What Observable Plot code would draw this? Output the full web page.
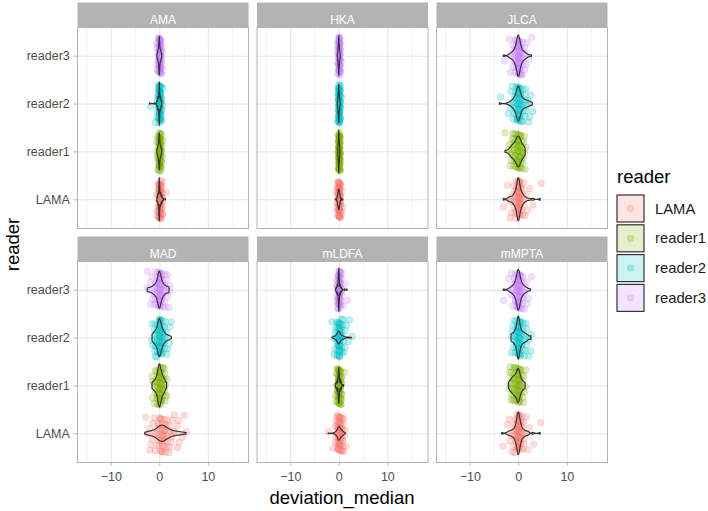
<!DOCTYPE html>
<html><head><meta charset="utf-8">
<script src="https://cdn.jsdelivr.net/npm/d3@7"></script>
<script src="https://cdn.jsdelivr.net/npm/@observablehq/plot@0.6"></script>
<style>
html,body{margin:0;padding:0;background:#fff;}
#chart{position:relative;width:708px;height:511px;}
</style></head><body><div id="chart"></div>
<script>
const readers = ["LAMA", "reader1", "reader2", "reader3"];
const measures = ["AMA", "HKA", "JLCA", "MAD", "mLDFA", "mMPTA"];
const readerColors = ["#F8766D", "#7CAE00", "#00BFC4", "#C77CFF"];
const xTicks = [-10, 0, 10];
const xMinorTicks = [-15, -5, 5, 15];
const xTitle = "deviation_median";
const yTitle = "reader";
const legendTitle = "reader";

// [deviation_median, number of cases] per reader: LAMA, reader1, reader2, reader3
const AMA = [
  [[-0.5,3],[-0.25,8],[0,30],[0.25,10],[0.5,6],[0.75,2],[1.25,1]],
  [[-0.5,4],[-0.25,10],[0,32],[0.25,10],[0.5,4]],
  [[-2,1],[-1,1],[-0.5,4],[-0.25,10],[0,30],[0.25,10],[0.5,4]],
  [[-0.5,4],[-0.25,9],[0,33],[0.25,10],[0.5,4]]
];
const HKA = [
  [[-0.7,1],[-0.4,2],[-0.3,4],[-0.2,7],[-0.1,10],[0,14],[0.1,10],[0.2,6],[0.3,3],[0.5,2],[0.8,1]],
  [[-0.2,5],[-0.1,12],[0,26],[0.1,12],[0.2,5]],
  [[-0.3,1],[-0.2,5],[-0.1,12],[0,25],[0.1,11],[0.2,5],[0.3,1]],
  [[-0.3,1],[-0.2,5],[-0.1,11],[0,26],[0.1,11],[0.2,5],[0.3,1]]
];
const JLCA = [
  [[-3.1,1],[-2.2,1],[-1.8,2],[-1.4,2],[-1.0,3],[-0.7,4],[-0.4,5],[-0.2,5],[0,14],[0.2,5],[0.4,5],[0.7,4],[1.0,3],[1.4,2],[1.8,1],[2.3,1],[3.0,1],[4.5,1]],
  [[-2.75,1],[-2.2,1],[-1.8,2],[-1.5,3],[-1.2,4],[-0.9,5],[-0.6,5],[-0.3,6],[0,14],[0.3,6],[0.6,5],[0.9,4],[1.2,3],[1.4,1]],
  [[-3.9,1],[-2.2,1],[-1.6,2],[-1.2,3],[-0.8,4],[-0.5,5],[-0.2,5],[0,14],[0.2,5],[0.5,5],[0.8,4],[1.2,3],[1.6,3],[2.0,2],[2.4,2],[2.9,1]],
  [[-3.1,1],[-2.0,1],[-1.6,2],[-1.2,3],[-0.8,4],[-0.5,5],[-0.2,6],[0,16],[0.2,6],[0.5,5],[0.8,4],[1.2,3],[1.6,2],[2.0,1],[2.7,1]]
];
const MAD = [
  [[-3,1],[-2.5,1],[-2,3],[-1.5,2],[-1,3],[-0.5,4],[0,8],[0.5,9],[1,8],[1.5,5],[2,4],[2.5,3],[3,2],[3.5,2],[4,2],[4.5,1],[5,1],[5.5,1]],
  [[-1.5,3],[-1,5],[-0.5,8],[0,24],[0.5,11],[1,7],[1.5,2]],
  [[-1.5,3],[-1,6],[-0.5,8],[0,22],[0.5,10],[1,5],[1.5,3],[2,2],[2.5,1]],
  [[-2.5,2],[-2,2],[-1.5,3],[-1,5],[-0.5,7],[0,22],[0.5,8],[1,5],[1.5,3],[2,3]]
];
const mLDFA = [
  [[-2.2,1],[-1.2,1],[-0.9,2],[-0.6,3],[-0.4,5],[-0.2,7],[0,14],[0.2,8],[0.4,6],[0.6,5],[0.8,4],[1.0,2],[1.3,2]],
  [[-0.7,2],[-0.5,4],[-0.3,7],[-0.1,9],[0,16],[0.1,9],[0.3,7],[0.5,4],[0.7,1],[1.0,1]],
  [[-1.4,1],[-1.1,2],[-0.8,3],[-0.5,5],[-0.3,6],[-0.1,6],[0,14],[0.2,7],[0.5,5],[0.8,4],[1.1,3],[1.5,1],[2.0,2],[2.6,1]],
  [[-0.7,1],[-0.5,3],[-0.3,6],[-0.1,9],[0,20],[0.1,9],[0.3,6],[0.5,3],[0.7,1],[1.2,1],[1.7,1]]
];
const mMPTA = [
  [[-3.4,1],[-2.4,1],[-1.9,2],[-1.5,2],[-1.1,3],[-0.7,4],[-0.4,5],[-0.2,5],[0,14],[0.2,5],[0.4,5],[0.7,4],[1.1,3],[1.5,2],[2.0,2],[3.0,1],[4.5,1]],
  [[-2.0,2],[-1.7,3],[-1.4,4],[-1.1,5],[-0.8,6],[-0.5,6],[-0.2,6],[0,12],[0.2,5],[0.5,4],[0.8,3],[1.1,2],[1.4,2]],
  [[-1.5,2],[-1.2,3],[-0.8,4],[-0.5,5],[-0.2,6],[0,14],[0.2,6],[0.5,5],[0.8,4],[1.2,4],[1.6,3],[2.0,2],[2.6,2]],
  [[-3.1,1],[-2.0,1],[-1.6,2],[-1.2,3],[-0.8,4],[-0.5,5],[-0.2,6],[0,16],[0.2,6],[0.5,5],[0.8,4],[1.2,3],[1.6,2],[2.0,1],[2.5,1]]
];
const measureCounts = [AMA, HKA, JLCA, MAD, mLDFA, mMPTA];

const FONT = "'Liberation Sans', Arial, Helvetica, sans-serif";

// bandwidth as in R's bw.nrd0
function nrd0(x) {
  const s = x.slice().sort(d3.ascending);
  const sd = d3.deviation(s);
  const iqr = d3.quantile(s, 0.75) - d3.quantile(s, 0.25);
  let lo = Math.min(sd, iqr / 1.34);
  if (!lo) lo = sd || Math.abs(s[0]) || 1;
  return 0.9 * lo * Math.pow(s.length, -0.2);
}
function kde(vals) {
  const bw = nrd0(vals), n = vals.length;
  const [lo, hi] = d3.extent(vals);
  const N = 400, out = [];
  for (let j = 0; j < N; j++) {
    const x = lo + (hi - lo) * j / (N - 1);
    let s = 0;
    for (const v of vals) { const z = (x - v) / bw; s += Math.exp(-0.5 * z * z); }
    out.push([x, s / (n * bw * Math.sqrt(2 * Math.PI))]);
  }
  return out;
}
const frac = v => v - Math.floor(v);

const pointRows = [], violinRows = [], stripRows = [];
measures.forEach((m, mi) => {
  const col = mi % 3, row = Math.floor(mi / 3);
  stripRows.push({measure: m, col, row});
  const groups = measureCounts[mi].map(pairs => pairs.flatMap(([v, n]) => Array(n).fill(v)));
  groups.forEach((vals, ri) => vals.forEach((v, i) => {
    const k = i + 1 + ri * 17 + mi * 59;
    const u = frac(0.5 + 0.7548776662 * k), w = frac(0.5 + 0.5698402910 * k);
    pointRows.push({measure: m, reader: readers[ri], col, row, x: v + (u - 0.5) * 0.3, y: ri + (w - 0.5) * 0.8});
  }));
  const dens = groups.map(kde);
  const dmax = d3.max(dens, d => d3.max(d, p => p[1]));
  dens.forEach((d, ri) => d.forEach(([x, y]) => violinRows.push({
    measure: m, reader: readers[ri], col, row, key: m + "-" + ri, x,
    lo: ri - 0.45 * y / dmax, hi: ri + 0.45 * y / dmax
  })));
});

const readerIdx = readers.map((_, i) => i);

const plot = Plot.plot({
  width: 708, height: 511,
  marginLeft: 77, marginRight: 101, marginTop: 27, marginBottom: 49,
  style: {fontFamily: FONT, fontSize: "12.5px", background: "#fff", color: "#4d4d4d"},
  x: {domain: [-16.95, 18.27]},
  y: {domain: [-0.6, 3.6]},
  fx: {domain: [0, 1, 2], axis: null, paddingInner: 0.04735, paddingOuter: 0, round: false},
  fy: {domain: [0, 1], axis: null, paddingInner: 0.141026, paddingOuter: 0, round: false},
  color: {domain: readers, range: readerColors},
  marks: [
    Plot.gridX(xMinorTicks, {stroke: "#efefef", strokeOpacity: 1, strokeWidth: 0.8}),
    Plot.gridX(xTicks, {stroke: "#e4e4e4", strokeOpacity: 1, strokeWidth: 1}),
    Plot.gridY(readerIdx, {stroke: "#e4e4e4", strokeOpacity: 1, strokeWidth: 1}),
    Plot.dot(pointRows, {x: "x", y: "y", fx: "col", fy: "row", r: 3.3,
      fill: "reader", fillOpacity: 0.24, stroke: "reader", strokeOpacity: 0.32, strokeWidth: 0.6}),
    Plot.areaY(violinRows, {x: "x", y1: "lo", y2: "hi", z: "key", fx: "col", fy: "row",
      fill: "reader", fillOpacity: 0.25, stroke: "#333333", strokeWidth: 1.15}),
    Plot.frame({stroke: "#b3b3b3", strokeWidth: 1}),
    Plot.frame({fill: "#b3b3b3", insetTop: -25, insetBottom: 201}),
    Plot.text(stripRows, {fx: "col", fy: "row", text: "measure", frameAnchor: "top", dy: -12.5,
      fill: "white", fontSize: 12}),
    Plot.axisX(xTicks, {facetAnchor: "bottom", tickSize: 3.5, tickPadding: 6.5, stroke: "#b3b3b3",
      fill: "#4d4d4d", fontSize: 12.5, label: null}),
    Plot.axisY(readerIdx, {facetAnchor: "left", tickFormat: i => readers[i], tickSize: 3.5, tickPadding: 4.2,
      stroke: "#b3b3b3", fill: "#4d4d4d", fontSize: 12.5, label: null})
  ]
});
document.getElementById("chart").appendChild(plot);

// axis titles and legend
const svg = d3.select(plot);
svg.append("text").attr("x", 342).attr("y", 504).attr("text-anchor", "middle")
  .attr("font-size", 18.5).attr("fill", "#000").text(xTitle);
svg.append("text").attr("transform", "translate(19,244.5) rotate(-90)").attr("text-anchor", "middle")
  .attr("font-size", 18.5).attr("fill", "#000").text(yTitle);
const lg = svg.append("g").attr("text-anchor", "start");
lg.append("text").attr("x", 617).attr("y", 183).attr("font-size", 18.5).attr("fill", "#000").text(legendTitle);
readers.forEach((r, i) => {
  const y0 = 195 + i * 29.8;
  const c = readerColors[i];
  lg.append("rect").attr("x", 617).attr("y", y0).attr("width", 27).attr("height", 27)
    .attr("fill", c).attr("fill-opacity", 0.2).attr("stroke", "#333").attr("stroke-width", 1.2);
  lg.append("circle").attr("cx", 630.5).attr("cy", y0 + 13.5).attr("r", 3.3)
    .attr("fill", c).attr("fill-opacity", 0.25).attr("stroke", c).attr("stroke-opacity", 0.3).attr("stroke-width", 0.6);
  lg.append("text").attr("x", 655).attr("y", y0 + 13.5).attr("dy", "0.35em").attr("font-size", 14.8)
    .attr("fill", "#1a1a1a").text(r);
});
</script></body></html>
